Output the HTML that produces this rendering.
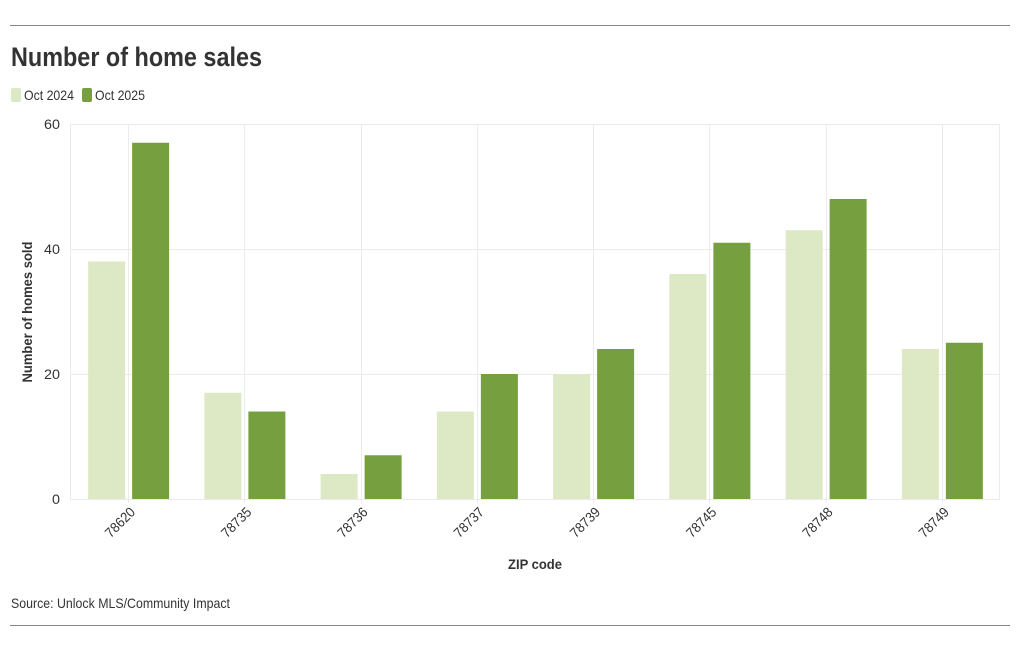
<!DOCTYPE html>
<html><head><meta charset="utf-8"><style>
body{margin:0;background:#fff;width:1020px;height:650px;overflow:hidden;font-family:"Liberation Sans",sans-serif;color:#333}
</style></head><body>
<svg width="1020" height="650" style="position:absolute;left:0;top:0;font-family:'Liberation Sans',sans-serif">
<line x1="10" y1="25.5" x2="1010" y2="25.5" stroke="#888"/>
<line x1="10" y1="625.5" x2="1010" y2="625.5" stroke="#888"/>
<text x="11" y="66" font-size="27" font-weight="bold" fill="#333" textLength="251" lengthAdjust="spacingAndGlyphs">Number of home sales</text>
<g>
<rect x="11" y="88" width="10" height="14" rx="2" fill="#dde8c4"/>
<text x="24" y="100" font-size="14" fill="#333" textLength="50" lengthAdjust="spacingAndGlyphs">Oct 2024</text>
<rect x="82" y="88" width="10" height="14" rx="2" fill="#76a040"/>
<text x="95" y="100" font-size="14" fill="#333" textLength="50" lengthAdjust="spacingAndGlyphs">Oct 2025</text>
</g>
<g id="plot"></g>
<text transform="translate(32,312) rotate(-90)" text-anchor="middle" font-size="14" font-weight="bold" fill="#333" textLength="141" lengthAdjust="spacingAndGlyphs">Number of homes sold</text>
<text x="535" y="569" text-anchor="middle" font-size="14" font-weight="bold" fill="#333" textLength="54" lengthAdjust="spacingAndGlyphs">ZIP code</text>
<text x="11" y="608" font-size="14" fill="#333" textLength="219" lengthAdjust="spacingAndGlyphs">Source: Unlock MLS/Community Impact</text>
</svg>
<script>
const categories=["78620","78735","78736","78737","78739","78745","78748","78749"];
const values2024=[38,17,4,14,20,36,43,24];
const values2025=[57,14,7,20,24,41,48,25];
const yTicks=[0,20,40,60];
const NS="http://www.w3.org/2000/svg";
const L=70,R=1000,T=124,B=499,yMax=60;
const bw=(R-L)/categories.length;
function y(v){return B-(B-T)*v/yMax;}
function xc(i){return L+bw*(i+0.5);}
const g=document.getElementById('plot');
function mk(t,a){const e=document.createElementNS(NS,t);for(const k in a)e.setAttribute(k,a[k]);g.appendChild(e);return e;}
yTicks.forEach(t=>{
 const l=mk('line',{x1:L,x2:R,y1:y(t)+.5,y2:y(t)+.5,stroke:'#ebebeb'});
 
 
 const tx=mk('text',{x:L-10,y:y(t)+5,'text-anchor':'end','font-size':14,fill:'#333',textLength:String(t).length*8,lengthAdjust:'spacingAndGlyphs'});
 tx.textContent=t;
 
 
});
mk('line',{x1:L+.5,x2:L+.5,y1:T,y2:B,stroke:'#ebebeb'});
mk('line',{x1:R-.5,x2:R-.5,y1:T,y2:B,stroke:'#ebebeb'});
categories.forEach((c,i)=>{
 const cx=xc(i);
 const gl=mk('line',{x1:Math.round(cx)+.5,x2:Math.round(cx)+.5,y1:T,y2:B+4,stroke:'#ebebeb'});
 
 
 const w=37;
 const b1=mk('rect',{x:cx-40,y:y(values2024[i]),width:w,height:B-y(values2024[i]),fill:'#dde8c4'});
 
 
 const b2=mk('rect',{x:cx+4,y:y(values2025[i]),width:w,height:B-y(values2025[i]),fill:'#76a040'});
 
 
 const tx=mk('text',{transform:`translate(${cx+8},${B+14}) rotate(-45)`,'text-anchor':'end','font-size':14,fill:'#333',textLength:36,lengthAdjust:'spacingAndGlyphs'});
 tx.textContent=c;
 
 
});
</script>
</body></html>
